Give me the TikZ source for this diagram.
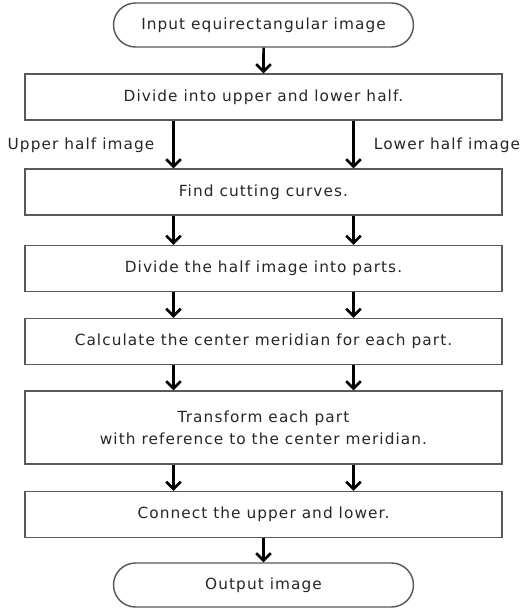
\documentclass[tikz,border=0pt]{standalone}
\usepackage{fontspec}
\setmainfont[LetterSpace=7]{DejaVu Sans}
\usetikzlibrary{arrows.meta,shapes,calc,positioning}

\begin{document}
\begin{tikzpicture}[x=0.75pt, y=-0.75pt,
  every node/.style={font=\fontsize{11.5}{16.5}\selectfont, text=black!85},
  stepbox/.style={draw=black!65, line width=1.1pt, rectangle,
                  minimum width=477*0.75pt, minimum height=46*0.75pt, inner sep=0pt},
  termbox/.style={draw=black!65, line width=1.1pt, rounded rectangle,
                  minimum width=300*0.75pt, minimum height=44*0.75pt, inner sep=0pt},
  flow/.style={line width=1.9pt, -{Straight Barb[length=5.5pt, width=11pt]}}]
  % Define dimensions
  \def\cx{263.5}
  \def\ax{90}
  \useasboundingbox (0,0) rectangle (521,611);

  % Draw boxes
  \node[termbox] (input) at (\cx,25) {Input equirectangular image};
  \node[stepbox] (divide) at (\cx,97) {Divide into upper and lower half.};
  \node[stepbox] (cut) at (\cx,192) {Find cutting curves.};
  \node[stepbox] (parts) at (\cx,268.5) {Divide the half image into parts.};
  \node[stepbox] (meridian) at (\cx,341.5) {Calculate the center meridian for each part.};
  \node[stepbox, minimum height=73*0.75pt, align=center] (transform) at (\cx,427.5)
       {Transform each part\\with reference to the center meridian.};
  \node[stepbox] (connect) at (\cx,514.5) {Connect the upper and lower.};
  \node[termbox] (output) at (\cx,585) {Output image};

  % Label the two halves
  \node (upper) at (81,145) {Upper half image};
  \node (lower) at (447,145) {Lower half image};

  % Draw arrows
  \draw[flow] (input) -- (divide);
  \foreach \a/\b in {divide/cut, cut/parts, parts/meridian, meridian/transform, transform/connect} {%
      \draw[flow] ($(\a.south)+(-\ax,0)$) -- ($(\b.north)+(-\ax,0)$);
      \draw[flow] ($(\a.south)+(\ax,0)$) -- ($(\b.north)+(\ax,0)$);
  }
  \draw[flow] (connect) -- (output);

\end{tikzpicture}
\end{document}
